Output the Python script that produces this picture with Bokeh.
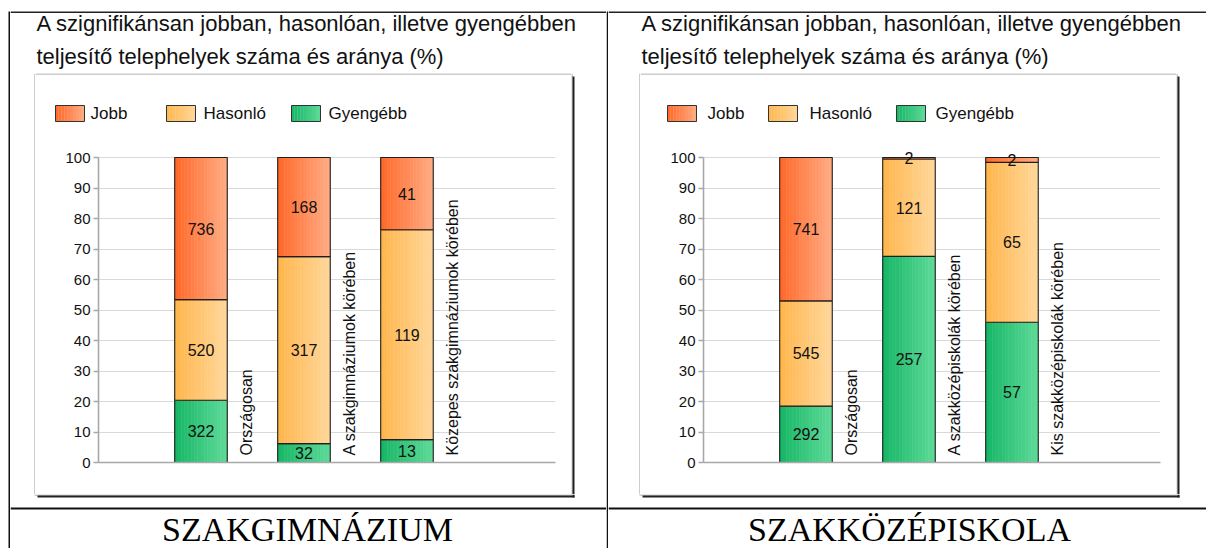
import numpy as np
from bokeh.plotting import figure
from bokeh.models import Range1d, FixedTicker
from bokeh.layouts import row, column
from bokeh.embed import file_html
from bokeh.resources import INLINE
from bokeh.core.properties import value

# ---------------- data ----------------
title_lines = ["A szignifikánsan jobban, hasonlóan, illetve gyengébben",
               "teljesítő telephelyek száma és aránya (%)"]
series_names = ["Jobb", "Hasonló", "Gyengébb"]
y_ticks = [0, 10, 20, 30, 40, 50, 60, 70, 80, 90, 100]

p1_caption = "SZAKGIMNÁZIUM"
p1_categories = ["Országosan", "A szakgimnáziumok körében", "Közepes szakgimnáziumok körében"]
p1_gyengebb_pct = [20.4, 6.2, 7.5]
p1_hasonlo_pct = [33.0, 61.3, 68.8]
p1_jobb_pct = [46.6, 32.5, 23.7]
p1_gyengebb_n = [322, 32, 13]
p1_hasonlo_n = [520, 317, 119]
p1_jobb_n = [736, 168, 41]

p2_caption = "SZAKKÖZÉPISKOLA"
p2_categories = ["Országosan", "A szakközépiskolák körében", "Kis szakközépiskolák körében"]
p2_gyengebb_pct = [18.5, 67.6, 46.0]
p2_hasonlo_pct = [34.5, 31.9, 52.4]
p2_jobb_pct = [47.0, 0.5, 1.6]
p2_gyengebb_n = [292, 257, 57]
p2_hasonlo_n = [545, 121, 65]
p2_jobb_n = [741, 2, 2]

# ---------------- style ----------------
FONT = "Liberation Sans"
SERIF = "Liberation Serif"
GRAD = {
    "Jobb": ((255, 104, 40), (255, 172, 132)),
    "Hasonló": ((255, 182, 76), (255, 215, 155)),
    "Gyengébb": ((22, 182, 102), (94, 218, 152)),
}
N_STRIPS = 16
BAR_W = 0.51
BOX_GRAY = "#9c9c9c"
SHADOW = "#222222"
CW, CH = 536, 354          # chart figure size
LH = 67                    # legend strip height
HEAD_H, ROW_H, FOOT_H = 73, 421, 54
PH = HEAD_H + ROW_H + FOOT_H


def hexc(c):
    return "#%02x%02x%02x" % tuple(int(round(v)) for v in c)


def grad_colors(name, n):
    c0, c1 = GRAD[name]
    return [hexc([a + (b - a) * ((k + 0.5) / n) for a, b in zip(c0, c1)]) for k in range(n)]


def deco(w, h):
    p = figure(width=w, height=h, output_backend="svg", toolbar_location=None, title=None,
               x_range=Range1d(0, w), y_range=Range1d(h, 0),
               x_axis_type=None, y_axis_type=None,
               min_border=0, min_border_left=0, min_border_right=0,
               min_border_top=0, min_border_bottom=0,
               background_fill_color="white", border_fill_color="white")
    p.outline_line_color = None
    p.frame_align = False
    return p


def rect(p, l, t, r, b, color):
    p.quad(left=[l], right=[r], top=[t], bottom=[b], fill_color=color, line_color=None)


def txt(p, x, y, s, size, font=FONT, align="left", baseline="middle", color="#111111"):
    p.text(x=[x], y=[y], text=[s], text_font=value(font), text_font_size=size,
           text_align=align, text_baseline=baseline, text_color=color)


def chart(cats, g_pct, h_pct, j_pct, g_n, h_n, j_n):
    p = figure(width=CW, height=CH, output_backend="svg", toolbar_location=None, title=None,
               x_range=Range1d(0.005, 4.442), y_range=Range1d(0, 102.3),
               min_border_left=63, min_border_right=16, min_border_top=10, min_border_bottom=32,
               background_fill_color="white", border_fill_color="white")
    p.frame_align = False
    p.outline_line_color = None
    p.xgrid.grid_line_color = None
    p.ygrid.ticker = FixedTicker(ticks=y_ticks)
    p.ygrid.grid_line_color = "#d9d9d9"
    p.ygrid.grid_line_width = 1.2
    p.yaxis.ticker = FixedTicker(ticks=y_ticks)
    p.yaxis.bounds = (0, 100)
    p.yaxis.axis_line_color = "#a8a8a8"
    p.yaxis.axis_line_width = 1.6
    p.yaxis.major_tick_line_color = "#a8a8a8"
    p.yaxis.major_tick_line_width = 1.4
    p.yaxis.major_tick_out = 5
    p.yaxis.major_tick_in = 0
    p.yaxis.minor_tick_line_color = None
    p.yaxis.major_label_text_font = FONT
    p.yaxis.major_label_text_font_size = "15px"
    p.yaxis.major_label_text_color = "#111111"
    p.yaxis.major_label_standoff = 3
    p.xaxis.ticker = FixedTicker(ticks=[])
    p.xaxis.major_label_text_font_size = "0px"
    p.xaxis.axis_line_color = "#a8a8a8"
    p.xaxis.axis_line_width = 1.6
    p.xaxis.major_tick_line_color = None
    p.xaxis.minor_tick_line_color = None

    xpos = [1, 2, 3]
    g_top = list(g_pct)
    h_top = [a + b for a, b in zip(g_pct, h_pct)]
    j_top = [a + b for a, b in zip(h_top, j_pct)]
    segs = [("Gyengébb", [0, 0, 0], g_top, g_n),
            ("Hasonló", g_top, h_top, h_n),
            ("Jobb", h_top, j_top, j_n)]
    sw = BAR_W / N_STRIPS
    for name, bot, top, counts in segs:
        cols = grad_colors(name, N_STRIPS)
        xs, bs, ts, cs = [], [], [], []
        for i in range(3):
            for k in range(N_STRIPS):
                xs.append(xpos[i] - BAR_W / 2 + (k + 0.5) * sw)
                bs.append(bot[i])
                ts.append(top[i])
                cs.append(cols[k])
        p.vbar(x=xs, width=sw, bottom=bs, top=ts, fill_color=cs, line_color=cs, line_width=0.6)
        p.vbar(x=xpos, width=BAR_W, bottom=bot, top=top, fill_alpha=0,
               line_color="#1e1e1e", line_width=1.1)
        mids = [(b + t) / 2 for b, t in zip(bot, top)]
        p.text(x=xpos, y=mids, text=[str(c) for c in counts], text_align="center",
               text_baseline="middle", text_font=value(FONT), text_font_size="16px",
               text_color="#111111")
    p.text(x=[x + 0.445 for x in xpos], y=[0, 0, 0], text=cats, angle=np.pi / 2,
           text_align="left", text_baseline="middle", y_offset=-7,
           text_font=value(FONT), text_font_size="16px", text_color="#111111")
    return p


def panel(pw, box_left, title_x, legend_pos, caption_x, caption, chart_fig):
    # header: table top line + two-line title
    header = deco(pw, HEAD_H)
    rect(header, 0, 11, pw, 12.5, "#222222")
    txt(header, title_x, 23, title_lines[0], "22px")
    txt(header, title_x, 56, title_lines[1], "22px")

    # chart box: left edge, legend strip + chart, right edge + shadow
    lw = box_left + 1
    left = deco(lw, ROW_H)
    rect(left, lw - 1, 0, lw, ROW_H, BOX_GRAY)

    leg = deco(CW, LH)
    rect(leg, 0, 0, CW, 1, BOX_GRAY)
    for (sx, tx), name in zip(legend_pos, series_names):
        cols = grad_colors(name, 10)
        w = 29 / 10
        leg.quad(left=[sx + k * w for k in range(10)],
                 right=[sx + (k + 1) * w + 0.3 for k in range(10)],
                 top=[32] * 10, bottom=[48] * 10, fill_color=cols, line_color=None)
        leg.quad(left=[sx], right=[sx + 29], top=[32], bottom=[48], fill_alpha=0,
                 line_color="#333333", line_width=1)
        txt(leg, tx, 40, name, "17px")

    rw = pw - lw - CW
    right = deco(rw, ROW_H)
    rect(right, 0, 0, 1, ROW_H, BOX_GRAY)
    rect(right, 1, 3, 3, ROW_H, SHADOW)

    # footer: box bottom edge + shadow, horizontal table line, caption
    bottom = deco(pw, FOOT_H)
    rect(bottom, box_left, 0, box_left + 538, 1, BOX_GRAY)
    rect(bottom, box_left + 3, 1, box_left + 540, 3, SHADOW)
    rect(bottom, box_left + 538, 0, box_left + 540, 3, SHADOW)
    rect(bottom, 0, 13, pw, 15, "#111111")
    txt(bottom, caption_x, 35, caption, "34px", font=SERIF, align="center", color="#000000")

    return column(header, row(left, column(leg, chart_fig), right), bottom)


def vline(w, x0):
    p = deco(w, PH)
    rect(p, x0, 11, x0 + 2, PH, "#111111")
    return p


c1 = chart(p1_categories, p1_gyengebb_pct, p1_hasonlo_pct, p1_jobb_pct,
           p1_gyengebb_n, p1_hasonlo_n, p1_jobb_n)
c2 = chart(p2_categories, p2_gyengebb_pct, p2_hasonlo_pct, p2_jobb_pct,
           p2_gyengebb_n, p2_hasonlo_n, p2_jobb_n)

# panel 1 spans page x 10..606, panel 2 spans 608..1206
P1 = panel(596, 24, 26, [(20, 55), (131, 168), (256, 293)], 297, p1_caption, c1)
P2 = panel(598, 31, 33, [(27, 67), (128, 169), (256, 295)], 301, p2_caption, c2)

layout = row(vline(10, 8), P1, vline(2, 0), P2)
open("out.html", "w").write(file_html(layout, INLINE))
